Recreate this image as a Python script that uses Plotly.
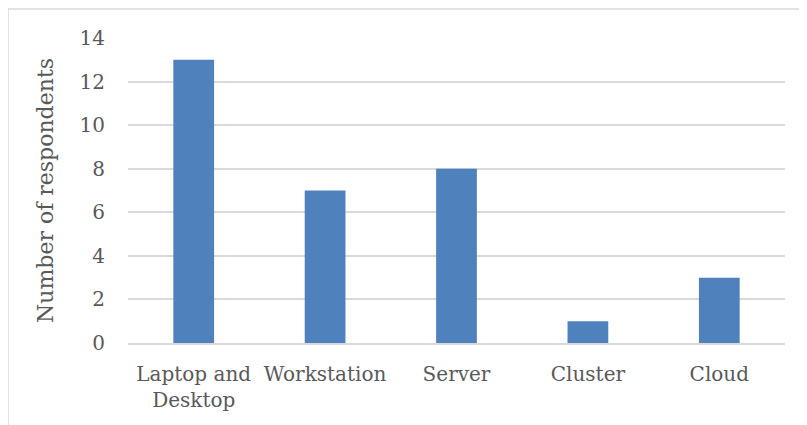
import plotly.graph_objects as go

categories = ["Laptop and<br>Desktop", "Workstation", "Server", "Cluster", "Cloud"]
values = [13, 7, 8, 1, 3]
y_ticks = [0, 2, 4, 6, 8, 10, 12, 14]

W, H = 807, 425
L, T = 120, 30
R = W - 777
B = H - 335
pw, ph = W - L - R, H - T - B

fig = go.Figure(go.Bar(x=categories, y=values, marker=dict(color="#4F81BD", line=dict(width=0)), width=0.31))

tick_font = dict(family="DejaVu Serif", size=20, color="#595959")
title_font = dict(family="DejaVu Serif", size=22, color="#595959")
fig.update_layout(
    width=W, height=H,
    margin=dict(l=L, r=R, t=T, b=B),
    plot_bgcolor="white", paper_bgcolor="white",
    font=tick_font,
    showlegend=False,
    xaxis=dict(showgrid=False, showline=True, linecolor="#D9D9D9", linewidth=1.5,
               ticks="", tickfont=tick_font, ticklabelstandoff=12),
    yaxis=dict(range=[0, 14], tickvals=y_ticks, showgrid=True, gridcolor="#D9D9D9", gridwidth=1.5,
               zeroline=False, ticks="", tickfont=tick_font, ticklabelstandoff=22,
               title=dict(text="Number of respondents", font=title_font, standoff=19)),
)

# chart frame (left and top edges visible)
x0 = (0 - L) / pw
x1 = (W + 20 - L) / pw
y_top = (H - B - 1) / ph
y_bot = (H - B - (H + 20)) / ph
fig.add_shape(type="rect", xref="paper", yref="paper", x0=x0, x1=x1, y0=y_bot, y1=y_top,
              line=dict(color="#D9D9D9", width=1.5), layer="below")

fig.write_html("out.html")
